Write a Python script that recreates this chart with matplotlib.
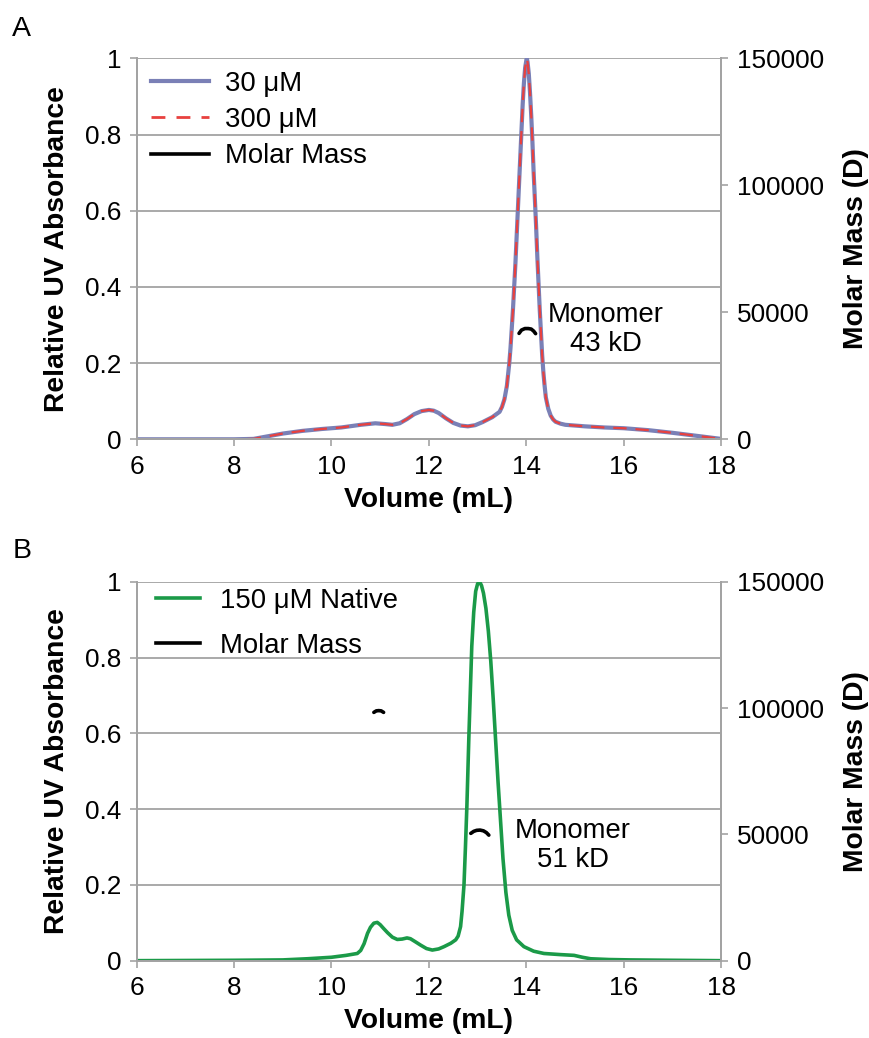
import numpy as np
import matplotlib
matplotlib.use("Agg")
import matplotlib.pyplot as plt
from matplotlib.lines import Line2D

plt.rcParams['font.family'] = ['Liberation Sans', 'DejaVu Sans']

# ---- panel A data ----
vol_a = [6.0, 7.0, 8.0, 8.4, 8.7, 9.0, 9.4, 9.8, 10.2, 10.6, 10.9, 11.1, 11.25, 11.4,
         11.55, 11.7, 11.85, 12.0, 12.1, 12.2, 12.35, 12.5, 12.65, 12.8, 12.95, 13.1,
         13.3, 13.45, 13.50, 13.55, 13.60, 13.625, 13.65, 13.675, 13.70, 13.725,
         13.75, 13.775, 13.80, 13.825, 13.85, 13.875, 13.90, 13.925, 13.95, 13.975,
         14.00, 14.01, 14.025, 14.05, 14.075, 14.10, 14.125, 14.15, 14.175, 14.20,
         14.225, 14.25, 14.275, 14.30, 14.325, 14.35, 14.375, 14.40, 14.45, 14.50,
         14.55, 14.6, 14.7, 14.8, 15.2, 15.6, 16.0, 16.5, 17.0, 17.5, 18.0]
abs_30 = [0, 0, 0, 0.001, 0.008, 0.015, 0.022, 0.027, 0.031, 0.038, 0.042, 0.040,
          0.038, 0.042, 0.053, 0.066, 0.074, 0.077, 0.075, 0.069, 0.055, 0.043,
          0.036, 0.034, 0.037, 0.045, 0.058, 0.072, 0.085, 0.105, 0.14, 0.17, 0.20,
          0.24, 0.29, 0.34, 0.40, 0.46, 0.53, 0.60, 0.67, 0.74, 0.81, 0.88, 0.935,
          0.975, 0.995, 1.0, 0.99, 0.96, 0.91, 0.85, 0.78, 0.70, 0.63, 0.56, 0.48,
          0.41, 0.34, 0.28, 0.22, 0.175, 0.14, 0.11, 0.08, 0.062, 0.052, 0.046,
          0.041, 0.038, 0.034, 0.031, 0.029, 0.024, 0.017, 0.009, 0.001]
abs_300 = abs_30  # the two traces overlap
mm_vol_a = [13.85, 13.90, 13.97, 14.04, 14.10, 14.15, 14.19]
mm_a = [41700, 43000, 43600, 43600, 43400, 42600, 41600]

# ---- panel B data ----
vol_b = [6.0, 8.0, 9.0, 9.5, 10.0, 10.3, 10.53, 10.6, 10.67, 10.74, 10.8, 10.87,
         10.94, 11.0, 11.07, 11.15, 11.25, 11.35, 11.45, 11.55, 11.62, 11.72, 11.83,
         11.95, 12.07, 12.2, 12.31, 12.45, 12.55, 12.6, 12.65, 12.68, 12.72, 12.75,
         12.78, 12.80, 12.82, 12.85, 12.88, 12.92, 12.96, 13.0, 13.04, 13.08, 13.12,
         13.17, 13.22, 13.27, 13.32, 13.37, 13.42, 13.47, 13.52, 13.58, 13.64, 13.71,
         13.8, 13.95, 14.15, 14.36, 14.7, 14.98, 15.15, 15.32, 15.7, 16.14, 17.0, 18.0]
abs_150 = [0, 0.001, 0.002, 0.005, 0.009, 0.014, 0.019, 0.027, 0.045, 0.072, 0.088,
           0.099, 0.101, 0.095, 0.085, 0.074, 0.062, 0.056, 0.057, 0.060, 0.058,
           0.050, 0.041, 0.032, 0.028, 0.031, 0.037, 0.046, 0.055, 0.065, 0.09, 0.13,
           0.20, 0.30, 0.41, 0.50, 0.59, 0.71, 0.83, 0.92, 0.975, 0.995, 1.0, 0.99,
           0.97, 0.93, 0.87, 0.79, 0.69, 0.58, 0.47, 0.37, 0.27, 0.18, 0.12, 0.08,
           0.055, 0.037, 0.025, 0.019, 0.016, 0.014, 0.009, 0.005, 0.003, 0.002,
           0.001, 0.0]
mm_vol_b1 = [10.87, 10.92, 10.97, 11.02, 11.07]
mm_b1 = [98300, 98900, 99000, 98900, 98300]
mm_vol_b2 = [12.86, 12.92, 12.98, 13.05, 13.12, 13.18, 13.23]
mm_b2 = [50400, 51200, 51600, 51700, 51400, 50700, 49700]

yticks = [0, 0.2, 0.4, 0.6, 0.8, 1.0]
ytick_labels = ['0', '0.2', '0.4', '0.6', '0.8', '1']
mm_ticks = [0, 50000, 100000, 150000]
xticks = [6, 8, 10, 12, 14, 16, 18]

GRAY = '#a3a3a3'
FS = 19.8     # legend / annotation text
FS_TICK = 18.8
FS_LAB = 20.3


def style_axes(ax, ax2):
    ax.set_xlim(6, 18)
    ax.set_ylim(0, 1)
    ax.set_xticks(xticks)
    ax.set_yticks(yticks)
    ax.set_yticklabels(ytick_labels)
    ax.yaxis.grid(True, color=GRAY, lw=1.3)
    ax.set_axisbelow(True)
    ax2.set_ylim(0, 150000)
    ax2.set_yticks(mm_ticks)
    for a in (ax, ax2):
        a.spines['top'].set_visible(False)
        for s in ('left', 'right', 'bottom'):
            a.spines[s].set_color(GRAY)
            a.spines[s].set_linewidth(1.3)
        a.tick_params(direction='out', length=5, width=1.2, color=GRAY,
                      labelsize=FS_TICK, pad=6)
    ax.set_xlabel('Volume (mL)', fontsize=FS_LAB, fontweight='bold', labelpad=6)
    ax.set_ylabel('Relative UV Absorbance', fontsize=FS_LAB, fontweight='bold',
                  labelpad=11)
    ax2.set_ylabel('Molar Mass (D)', fontsize=FS_LAB, fontweight='bold', labelpad=14)


fig = plt.figure(figsize=(8.7, 10.38), dpi=100)

# panel A
ax = fig.add_axes([0.157, 0.5768, 0.672, 0.367])
ax2 = ax.twinx()
style_axes(ax, ax2)
ax.plot(vol_a, abs_30, color='#7a80b6', lw=3.0, solid_joinstyle='round',
        solid_capstyle='round')
ax.plot(vol_a, abs_300, color='#e8413f', lw=1.6, dashes=(6, 4),
        dash_joinstyle='round')
ax2.plot(mm_vol_a, mm_a, color='black', lw=2.6, solid_capstyle='round')
ax.text(15.63, 0.287, 'Monomer\n43 kD', fontsize=FS, ha='center', va='center',
        linespacing=1.15)
handles = [Line2D([], [], color='#7a80b6', lw=3.0),
           Line2D([], [], color='#e8413f', lw=2.0, dashes=(5, 4)),
           Line2D([], [], color='black', lw=2.6)]
ax2.legend(handles, ['30 μM', '300 μM', 'Molar Mass'], loc='upper left',
           bbox_to_anchor=(0.025, 0.967), frameon=False, fontsize=FS,
           borderaxespad=0, borderpad=0, handlelength=2.1, handletextpad=0.58,
           labelspacing=0.37)
fig.text(0.014, 0.985, 'A', fontsize=20.5, va='top', ha='left')

# panel B
bx = fig.add_axes([0.157, 0.0745, 0.672, 0.365])
bx2 = bx.twinx()
style_axes(bx, bx2)
bx.plot(vol_b, abs_150, color='#1b9a48', lw=2.6, solid_joinstyle='round')
bx2.plot(mm_vol_b1, mm_b1, color='black', lw=2.6, solid_capstyle='round')
bx2.plot(mm_vol_b2, mm_b2, color='black', lw=2.6, solid_capstyle='round')
bx.text(14.95, 0.305, 'Monomer\n51 kD', fontsize=FS, ha='center', va='center',
        linespacing=1.15)
handles_b = [Line2D([], [], color='#1b9a48', lw=2.6),
             Line2D([], [], color='black', lw=2.6)]
bx2.legend(handles_b, ['150 μM Native', 'Molar Mass'], loc='upper left',
           bbox_to_anchor=(0.034, 0.984), frameon=False, fontsize=FS,
           borderaxespad=0, borderpad=0, handlelength=1.6, handletextpad=0.7,
           labelspacing=0.7)
fig.text(0.014, 0.482, 'B', fontsize=20.5, va='top', ha='left')

fig.savefig('out.png', dpi=100)
